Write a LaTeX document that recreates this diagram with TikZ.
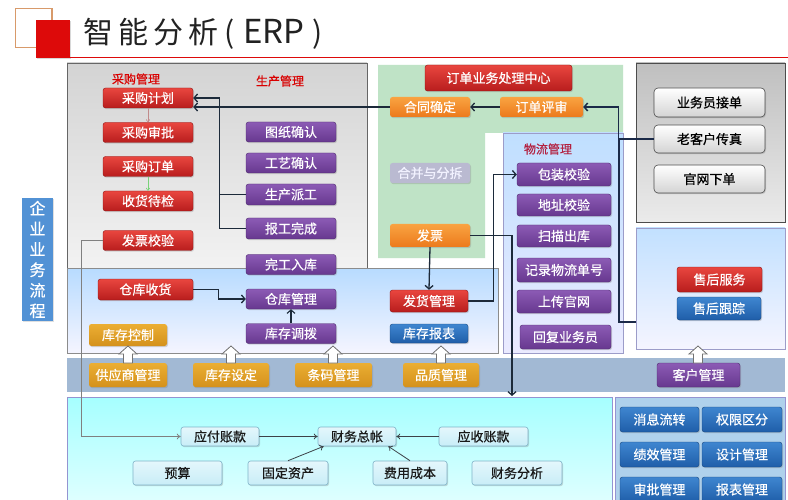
\documentclass[tikz,border=0pt]{standalone}
\usepackage{fontspec}
\setmainfont{Noto Sans CJK SC}
\newfontfamily\bxfont{Noto Sans CJK SC}[FakeBold=0.6]
\usetikzlibrary{shadows,arrows.meta}
\definecolor{rT}{HTML}{E9463F}\definecolor{rB}{HTML}{B81D1D}\definecolor{rD}{HTML}{8E1414}
\definecolor{pT}{HTML}{8C5BB5}\definecolor{pB}{HTML}{67388F}\definecolor{pD}{HTML}{4C2A6C}
\definecolor{oT}{HTML}{F9A341}\definecolor{oB}{HTML}{EC7A1C}
\definecolor{gT}{HTML}{EBAE33}\definecolor{gB}{HTML}{D4911C}
\definecolor{bT}{HTML}{3F86D0}\definecolor{bB}{HTML}{1F5EA9}\definecolor{bD}{HTML}{16467F}
\definecolor{fT}{HTML}{E4F7FC}\definecolor{fB}{HTML}{C8EDF7}\definecolor{fD}{HTML}{7FB3C8}
\definecolor{cnC}{HTML}{1C2A3A}\definecolor{navC}{HTML}{1B2A48}
\definecolor{titleC}{HTML}{222222}\definecolor{tanC}{HTML}{D89A6A}\definecolor{redC}{HTML}{DD0A0A}
\definecolor{greenC}{HTML}{BFE3C6}\definecolor{bandC}{HTML}{A2B9D4}\definecolor{wlC}{HTML}{B3203F}
\tikzset{
 bx/.style={rounded corners=2.5pt, inner sep=0pt, text=white, font=\bxfont\fontsize{13}{13}\selectfont,
   drop shadow={shadow xshift=1pt,shadow yshift=-1.2pt,opacity=0.3}},
 redbx/.style={bx, top color=rT, bottom color=rB, draw=rD, line width=0.4pt},
 purbx/.style={bx, top color=pT, bottom color=pB, draw=pD, line width=0.4pt},
 orabx/.style={bx, top color=oT, bottom color=oB},
 gldbx/.style={bx, top color=gT, bottom color=gB},
 blubx/.style={bx, top color=bT, bottom color=bB, draw=bD, line width=0.4pt},
 mixbx/.style={bx, fill=blue!20!gray!45, text=white!95!blue},
 finbx/.style={bx, top color=fT, bottom color=fB, draw=fD, line width=0.6pt, text=black!90},
 grybx/.style={bx, rounded corners=4pt, top color=white, bottom color=black!17, draw=black!70, line width=0.6pt, text=black},
 conn/.style={draw=cnC, line width=1.3pt, -{Straight Barb[length=3.5pt,width=8pt]}},
 line/.style={draw=cnC, line width=1.3pt},
 fconn/.style={draw=black!55!cyan!40!black, line width=0.8pt, -{To[length=4pt,width=6pt]}},
 lab/.style={font=\bxfont\fontsize{12}{12}\selectfont, text=red!85!black},
}
\newcommand\hollowup[1]{\filldraw[fill=white, draw=black!55, line width=0.8pt] (#1,346) -- ++(9,8) -- ++(-4.5,0) -- ++(0,9) -- ++(-9,0) -- ++(0,-9) -- ++(-4.5,0) -- cycle;}
\begin{document}
\begin{tikzpicture}[x=1pt,y=-1pt]
\useasboundingbox (0,0) rectangle (788,500);
\fill[white] (0,0) rectangle (788,500);
% title
\draw[draw=tanC, line width=1.6pt] (15.5,8.5) rectangle (52,47.5);
\fill[redC, drop shadow={shadow xshift=1pt,shadow yshift=-1pt,opacity=0.3}] (36,20) rectangle (70,58);
\draw[redC, line width=0.8pt] (70,57.5) -- (788,57.5);
\node[anchor=west, inner sep=0pt, text=titleC, font=\fontsize{30}{30}\selectfont] (title) at (83,34)
  {智\kern5pt能\kern5pt分\kern5pt析\kern6pt(\kern9pt{\fontsize{33}{33}\selectfont ERP}\kern8pt)};
% left label
\node[fill=bT!90!white, text=white, inner sep=0pt, minimum width=31pt, minimum height=123pt, align=center,
  font=\bxfont\fontsize{16}{20.5}\selectfont, drop shadow={shadow xshift=1pt,shadow yshift=-1pt,opacity=0.25}] (qy) at (37.5,259.5)
  {企\\业\\业\\务\\流\\程};
% panels
\path[draw=black!60, top color=black!17, bottom color=black!5, line width=0.6pt] (67,63) rectangle (367,268);
\fill[greenC] (378,65) -- (623,65) -- (623,133) -- (485,133) -- (485,258) -- (378,258) -- cycle;
\path[draw=blue!30!gray!60, top color=blue!50!cyan!25!white, bottom color=blue!8!white, line width=0.5pt] (503,133) rectangle (623,353);
\path[draw=black!45, top color=blue!50!cyan!28!white, bottom color=blue!4!white, line width=0.5pt] (67,268) rectangle (498,353);
\path[draw=black!70, top color=black!25, bottom color=black!8, line width=0.6pt] (636,63) rectangle (785,222);
\path[draw=blue!30!gray!60, top color=blue!50!cyan!24!white, bottom color=blue!4!white, line width=0.5pt] (636,228) rectangle (785,349);
\fill[bandC] (67,358) rectangle (785,392);
\path[draw=blue!40!gray!60, top color=cyan!35!white, bottom color=cyan!12!white, line width=0.6pt] (67,397) rectangle (612,505);
\path[draw=blue!40!gray!60, fill=blue!45!cyan!28!white!85!gray, line width=0.6pt] (615,397) rectangle (785,505);
% section labels
\node[lab] (lcg) at (136,79) {采购管理};
\node[lab] (lsc) at (280,81) {生产管理};
\node[lab, text=wlC] (lwl) at (548,149) {物流管理};
% purchase (red)
\node[redbx, minimum width=90pt, minimum height=20pt] (cgjh) at (148,98) {采购计划};
\node[redbx, minimum width=90pt, minimum height=20pt] (cgsp) at (148,132.5) {采购审批};
\node[redbx, minimum width=90pt, minimum height=20pt] (cgdd) at (148,166.5) {采购订单};
\node[redbx, minimum width=90pt, minimum height=20pt] (shdj) at (148,201) {收货待检};
\node[redbx, minimum width=90pt, minimum height=20pt] (fpjy) at (148,240.5) {发票校验};
\node[redbx, minimum width=95pt, minimum height=21pt] (cksh) at (145.5,289.5) {仓库收货};
% production (purple)
\node[purbx, minimum width=90pt, minimum height=20pt] (tzqr) at (291,132) {图纸确认};
\node[purbx, minimum width=90pt, minimum height=20pt] (gyqr) at (291,163) {工艺确认};
\node[purbx, minimum width=90pt, minimum height=21pt] (scpg) at (291,194.5) {生产派工};
\node[purbx, minimum width=90pt, minimum height=21pt] (bgwc) at (291,228.5) {报工完成};
\node[purbx, minimum width=90pt, minimum height=20pt] (wgrk) at (291,264.5) {完工入库};
\node[purbx, minimum width=90pt, minimum height=20pt] (ckgl) at (291,299) {仓库管理};
\node[purbx, minimum width=90pt, minimum height=20pt] (kcdb) at (291,333.5) {库存调拨};
% warehouse row
\node[gldbx, minimum width=78pt, minimum height=22pt] (kckz) at (128,335) {库存控制};
\node[redbx, minimum width=78pt, minimum height=22pt] (fhgl) at (429,301) {发货管理};
\node[blubx, minimum width=78pt, minimum height=19pt] (kcbb) at (429,333.5) {库存报表};
% band
\node[gldbx, minimum width=78pt, minimum height=24pt] (gysgl) at (128,375) {供应商管理};
\node[gldbx, minimum width=76pt, minimum height=24pt] (kcsd) at (231,375) {库存设定};
\node[gldbx, minimum width=77pt, minimum height=24pt] (tmgl) at (333.5,375) {条码管理};
\node[gldbx, minimum width=76pt, minimum height=24pt] (pzgl) at (441,375) {品质管理};
\node[purbx, minimum width=83pt, minimum height=24pt] (khgl) at (698.5,375) {客户管理};
% order center
\node[redbx, minimum width=147pt, minimum height=26pt] (ddzx) at (498.5,78) {订单业务处理中心};
\node[orabx, minimum width=80pt, minimum height=20pt] (htqd) at (430,107) {合同确定};
\node[orabx, minimum width=83pt, minimum height=20pt] (ddps) at (541.5,107) {订单评审};
\node[mixbx, minimum width=80pt, minimum height=20pt] (hbfc) at (430,173) {合并与分拆};
\node[orabx, minimum width=80pt, minimum height=23pt] (fp) at (430,235.5) {发票};
% logistics
\node[purbx, minimum width=94pt, minimum height=23pt] (bzjy) at (564,174.5) {包装校验};
\node[purbx, minimum width=94pt, minimum height=22pt] (dzjy) at (564,205) {地址校验};
\node[purbx, minimum width=94pt, minimum height=22pt] (smck) at (564,236) {扫描出库};
\node[purbx, minimum width=94pt, minimum height=24pt] (jlwl) at (564,270) {记录物流单号};
\node[purbx, minimum width=94pt, minimum height=23pt] (scgw) at (564,301.5) {上传官网};
\node[purbx, minimum width=91pt, minimum height=24pt] (hfyw) at (565.5,337) {回复业务员};
% top right
\node[grybx, minimum width=111pt, minimum height=29pt] (ywy) at (709.5,102.5) {业务员接单};
\node[grybx, minimum width=111pt, minimum height=28pt] (lkh) at (709.5,139) {老客户传真};
\node[grybx, minimum width=111pt, minimum height=28pt] (gwxd) at (709.5,179) {官网下单};
% after-sales
\node[redbx, minimum width=85pt, minimum height=25pt] (shfw) at (719.5,279.5) {售后服务};
\node[blubx, minimum width=84pt, minimum height=23pt] (shgz) at (719,308.5) {售后跟踪};
% bottom right
\node[blubx, minimum width=79pt, minimum height=25pt] (xxlz) at (659.5,419.5) {消息流转};
\node[blubx, minimum width=80pt, minimum height=25pt] (qxqf) at (742,419.5) {权限区分};
\node[blubx, minimum width=79pt, minimum height=25pt] (jxgl) at (659.5,454.5) {绩效管理};
\node[blubx, minimum width=80pt, minimum height=25pt] (sjgl) at (742,454.5) {设计管理};
\node[blubx, minimum width=79pt, minimum height=25pt] (spgl) at (659.5,489.5) {审批管理};
\node[blubx, minimum width=80pt, minimum height=25pt] (bbgl) at (742,489.5) {报表管理};
% finance
\node[finbx, minimum width=78pt, minimum height=19pt] (yfzk) at (220,436.5) {应付账款};
\node[finbx, minimum width=78pt, minimum height=19pt] (cwzz) at (357,436.5) {财务总帐};
\node[finbx, minimum width=89pt, minimum height=19pt] (yszk) at (483.5,436.5) {应收账款};
\node[finbx, minimum width=89pt, minimum height=24pt] (ys) at (177.5,473) {预算};
\node[finbx, minimum width=80pt, minimum height=24pt] (gdzc) at (288,473) {固定资产};
\node[finbx, minimum width=74pt, minimum height=24pt] (fycb) at (410,473) {费用成本};
\node[finbx, minimum width=90pt, minimum height=24pt] (cwfx) at (517,473) {财务分析};
% hollow arrows
\foreach \hx in {128,231,333,441,698} {\hollowup{\hx}}
% connector end points
\coordinate (shIn) at (636,322);
\coordinate (finIn) at (512,396);
% connectors
\draw[conn] (htqd.west) -- (htqd.west -| cgjh.east);
\draw[conn] (scpg.west) -- ++(-26,0) |- (cgjh.east);
\draw[line] (bgwc.west) -- ++(-26,0) |- (scpg.west);
\draw[conn] (ddps.west) -- (htqd.east);
\draw[conn, draw=navC, line width=1.5pt] (lkh.west) -- ++(-35,0) |- (ddps.east);
\draw[line, draw=navC, line width=1.5pt] (shIn) -- ++(-17,0) |- (lkh.west);
\draw[conn] (fp.south) -- (fhgl.north);
\draw[conn] (fp.east) -| (finIn);
\draw[conn] (fhgl.east) -- ++(25,0) |- (bzjy.west);
\draw[conn] (cksh.east) -- ++(25,0) |- (ckgl.west);
\draw[conn, line width=1.1pt] (kcdb.north) -- (ckgl.south);
\draw[-{To[length=3pt,width=4pt]}, draw=red!30!gray!70, line width=0.6pt] (cgjh.south) -- (cgsp.north);
\draw[-{To[length=3pt,width=4pt]}, draw=green!50!gray!70, line width=0.6pt] (cgdd.south) -- (shdj.north);
\draw[fconn, draw=black!50] (fpjy.west) -- ++(-21,0) |- (yfzk.west);
\draw[fconn] (yfzk.east) -- (cwzz.west);
\draw[fconn] (yszk.west) -- (cwzz.east);
\draw[fconn] (gdzc.north) -- ([xshift=6pt]cwzz.south west);
\draw[fconn] (fycb.north) -- ([xshift=-8pt]cwzz.south east);
\end{tikzpicture}
\end{document}
